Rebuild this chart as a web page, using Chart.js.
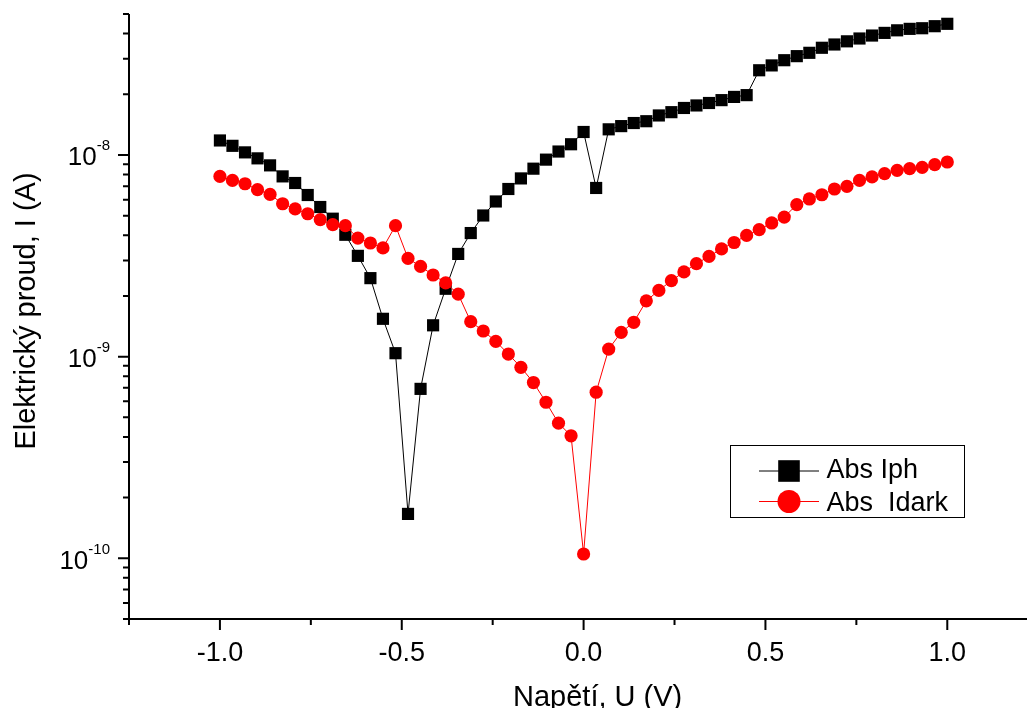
<!DOCTYPE html>
<html>
<head>
<meta charset="utf-8">
<script src="https://cdn.jsdelivr.net/npm/chart.js@4/dist/chart.umd.min.js"></script>
<style>
html,body{margin:0;padding:0;background:#fff;}
#wrap{width:1027px;height:708px;position:relative;}
</style>
</head>
<body>
<div id="wrap"><canvas id="c" width="1027" height="708"></canvas></div>
<script>
// ---- data ----
const voltage = [
 -1.0,-0.9655,-0.931,-0.8966,-0.8621,-0.8276,-0.7931,-0.7586,-0.7241,-0.6897,
 -0.6552,-0.6207,-0.5862,-0.5517,-0.5172,-0.4828,-0.4483,-0.4138,-0.3793,-0.3448,
 -0.3103,-0.2759,-0.2414,-0.2069,-0.1724,-0.1379,-0.1034,-0.069,-0.0345,0.0,
 0.0345,0.069,0.1034,0.1379,0.1724,0.2069,0.2414,0.2759,0.3103,0.3448,
 0.3793,0.4138,0.4483,0.4828,0.5172,0.5517,0.5862,0.6207,0.6552,0.6897,
 0.7241,0.7586,0.7931,0.8276,0.8621,0.8966,0.931,0.9655,1.0
];
const absIph = [
 1.18e-8,1.11e-8,1.03e-8,9.62e-9,8.88e-9,7.83e-9,7.26e-9,6.33e-9,5.52e-9,4.83e-9,
 4.02e-9,3.16e-9,2.45e-9,1.54e-9,1.04e-9,1.66e-10,6.92e-10,1.43e-9,2.17e-9,3.23e-9,
 4.10e-9,5.01e-9,5.88e-9,6.78e-9,7.65e-9,8.55e-9,9.48e-9,1.04e-8,1.13e-8,1.30e-8,
 6.86e-9,1.34e-8,1.39e-8,1.44e-8,1.47e-8,1.57e-8,1.63e-8,1.71e-8,1.76e-8,1.81e-8,
 1.87e-8,1.94e-8,1.98e-8,2.63e-8,2.78e-8,2.95e-8,3.09e-8,3.21e-8,3.40e-8,3.53e-8,
 3.66e-8,3.78e-8,3.91e-8,4.03e-8,4.15e-8,4.22e-8,4.25e-8,4.35e-8,4.47e-8
];
const absIdark = [
 7.83e-9,7.48e-9,7.20e-9,6.73e-9,6.37e-9,5.73e-9,5.40e-9,5.11e-9,4.78e-9,4.51e-9,
 4.46e-9,3.87e-9,3.66e-9,3.46e-9,4.46e-9,3.07e-9,2.80e-9,2.54e-9,2.32e-9,2.04e-9,
 1.49e-9,1.34e-9,1.19e-9,1.03e-9,8.85e-10,7.44e-10,5.94e-10,4.68e-10,4.05e-10,1.05e-10,
 6.66e-10,1.09e-9,1.32e-9,1.48e-9,1.89e-9,2.13e-9,2.38e-9,2.63e-9,2.89e-9,3.14e-9,
 3.42e-9,3.68e-9,3.99e-9,4.26e-9,4.60e-9,4.92e-9,5.67e-9,6.05e-9,6.35e-9,6.78e-9,
 6.99e-9,7.48e-9,7.78e-9,8.08e-9,8.39e-9,8.55e-9,8.68e-9,8.95e-9,9.23e-9
];
const seriesNames = ['Abs Iph', 'Abs  Idark'];
const xMajorTicks = [-1.0, -0.5, 0.0, 0.5, 1.0];
const xTickLabels = ['-1.0', '-0.5', '0.0', '0.5', '1.0'];
const xMinorTicks = [-1.25, -0.75, -0.25, 0.25, 0.75];
const yMajorTicks = [1e-10, 1e-9, 1e-8];
const yTickExponents = ['-10', '-9', '-8'];
const yMinorTicks = [5e-11,6e-11,7e-11,8e-11,9e-11,
 2e-10,3e-10,4e-10,5e-10,6e-10,7e-10,8e-10,9e-10,
 2e-9,3e-9,4e-9,5e-9,6e-9,7e-9,8e-9,9e-9,
 2e-8,3e-8,4e-8,5e-8];
const xTitle = 'Napětí, U (V)';
const yTitle = 'Elektrický proud, I (A)';

const FONT = "'Liberation Sans', Arial, Helvetica, sans-serif";

const toPoints = (ys) => ys.map((v, i) => ({x: voltage[i], y: v}));

const decor = {
  id: 'decor',
  afterDraw(chart) {
    const ctx = chart.ctx, xs = chart.scales.x, ys = chart.scales.y, a = chart.chartArea;
    ctx.save();
    ctx.strokeStyle = '#000';
    ctx.fillStyle = '#000';
    // axis lines
    ctx.lineWidth = 2;
    ctx.beginPath();
    ctx.moveTo(a.left, a.top); ctx.lineTo(a.left, a.bottom + 1);
    ctx.moveTo(a.left - 1, a.bottom); ctx.lineTo(chart.width, a.bottom);
    ctx.stroke();
    // x ticks
    ctx.beginPath();
    xMajorTicks.forEach(v => { const p = xs.getPixelForValue(v); ctx.moveTo(p, a.bottom); ctx.lineTo(p, a.bottom + 11); });
    xMinorTicks.forEach(v => { const p = xs.getPixelForValue(v); ctx.moveTo(p, a.bottom); ctx.lineTo(p, a.bottom + 6); });
    // y ticks
    yMajorTicks.forEach(v => { const p = ys.getPixelForValue(v); ctx.moveTo(a.left, p); ctx.lineTo(a.left - 11, p); });
    yMinorTicks.forEach(v => { const p = ys.getPixelForValue(v); ctx.moveTo(a.left, p); ctx.lineTo(a.left - 6, p); });
    ctx.stroke();
    // x tick labels
    ctx.font = '27px ' + FONT;
    ctx.textAlign = 'center';
    ctx.textBaseline = 'alphabetic';
    xMajorTicks.forEach((v, i) => { ctx.fillText(xTickLabels[i], xs.getPixelForValue(v), a.bottom + 41.5); });
    // y tick labels 10^n
    yMajorTicks.forEach((v, i) => {
      const p = ys.getPixelForValue(v);
      ctx.font = '15px ' + FONT;
      ctx.textAlign = 'right';
      const supW = ctx.measureText(yTickExponents[i]).width;
      ctx.fillText(yTickExponents[i], 110, p - 4.5);
      ctx.font = '26px ' + FONT;
      ctx.fillText('10', 110 - supW, p + 10.5);
    });
    // axis titles
    ctx.font = '29px ' + FONT;
    ctx.textAlign = 'left';
    ctx.fillText(xTitle, 513, 706);
    ctx.save();
    ctx.translate(34.5, 311);
    ctx.rotate(-Math.PI / 2);
    ctx.textAlign = 'center';
    ctx.fillText(yTitle, 0, 0);
    ctx.restore();
    // legend
    ctx.lineWidth = 1;
    ctx.strokeRect(730.5, 445.5, 234, 72);
    const rows = [
      {y: 471, color: '#000000', shape: 'rect', text: seriesNames[0], base: 478},
      {y: 501.5, color: '#ff0000', shape: 'circle', text: seriesNames[1], base: 511}
    ];
    rows.forEach(r => {
      ctx.strokeStyle = r.color;
      ctx.fillStyle = r.color;
      ctx.beginPath();
      ctx.moveTo(759, r.y); ctx.lineTo(819, r.y);
      ctx.stroke();
      if (r.shape === 'rect') {
        ctx.fillRect(789 - 10.8, r.y - 10.8, 21.6, 21.6);
      } else {
        ctx.beginPath(); ctx.arc(789, r.y, 11.5, 0, Math.PI * 2); ctx.fill();
      }
      ctx.fillStyle = '#000';
      ctx.font = '27px ' + FONT;
      ctx.textAlign = 'left';
      ctx.fillText(r.text, 826.5, r.base);
    });
    ctx.restore();
  }
};

new Chart(document.getElementById('c'), {
  type: 'scatter',
  data: {
    datasets: [
      {
        label: seriesNames[1],
        data: toPoints(absIdark),
        showLine: true,
        borderColor: '#ff0000',
        backgroundColor: '#ff0000',
        borderWidth: 1,
        pointStyle: 'circle',
        pointRadius: 6.6,
        pointBorderWidth: 0,
        pointBackgroundColor: '#ff0000',
        order: 0
      },
      {
        label: seriesNames[0],
        data: toPoints(absIph),
        showLine: true,
        borderColor: '#000000',
        backgroundColor: '#000000',
        borderWidth: 1,
        pointStyle: 'rect',
        pointRadius: 8.6,
        pointBorderWidth: 0,
        pointBackgroundColor: '#000000',
        order: 1
      }
    ]
  },
  options: {
    responsive: false,
    animation: false,
    devicePixelRatio: 1,
    layout: {autoPadding: false, padding: {left: 129, right: 0, top: 14, bottom: 89}},
    plugins: {legend: {display: false}, tooltip: {enabled: false}},
    scales: {
      x: {type: 'linear', display: false, min: -1.25, max: 1.2192, bounds: 'data'},
      y: {type: 'logarithmic', display: false, min: 5e-11, max: 5e-8, bounds: 'data'}
    }
  },
  plugins: [decor]
});
</script>
</body>
</html>
